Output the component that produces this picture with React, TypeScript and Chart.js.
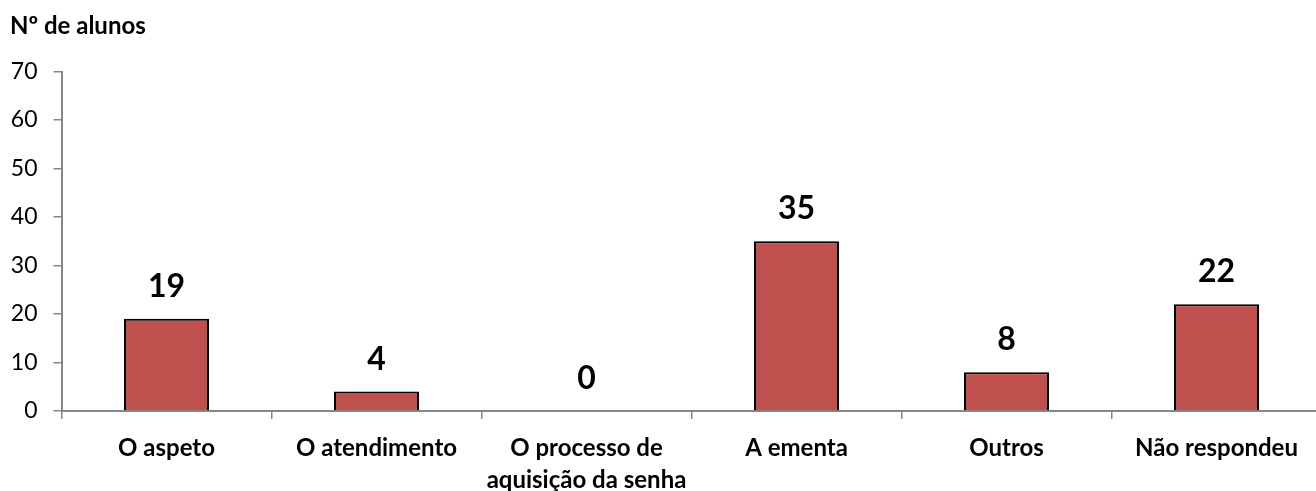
import React, { useEffect, useRef } from "react";
import { Chart, registerables } from "chart.js";

Chart.register(...registerables);

const categories: (string | string[])[] = [
  "O aspeto",
  "O atendimento",
  ["O processo de", "aquisição da senha"],
  "A ementa",
  "Outros",
  "Não respondeu",
];
const alunos: number[] = [19, 4, 0, 35, 8, 22];
const yTicks: number[] = [0, 10, 20, 30, 40, 50, 60, 70];
const yAxisTitle = "Nº de alunos";

const FONT = "Lato, 'Open Sans', sans-serif";
const AXIS = "#868686";

const CANVAS_W = 1330;
const CANVAS_H = 491;
const PLOT_LEFT = 61.5;
const PLOT_TOP = 71.5;
const PLOT_BOTTOM = 411;

// Bold value labels above each bar plus the axis heading at the top left
const labelsPlugin = {
  id: "valueLabels",
  afterDatasetsDraw(chart: any) {
    const { ctx } = chart;
    const meta = chart.getDatasetMeta(0);
    const ds = chart.data.datasets[0];
    ctx.save();
    ctx.fillStyle = "#000";
    ctx.font = `bold 32px ${FONT}`;
    ctx.textAlign = "center";
    ctx.textBaseline = "alphabetic";
    meta.data.forEach((bar: any, i: number) => {
      ctx.fillText(String(ds.data[i]), bar.x, bar.y - 22);
    });
    ctx.font = `bold 24px ${FONT}`;
    ctx.textAlign = "left";
    ctx.fillText(yAxisTitle, 10, 34);
    ctx.restore();
  },
};

export default function App() {
  const ref = useRef<HTMLCanvasElement>(null);

  useEffect(() => {
    if (!ref.current) return;
    const chart = new Chart(ref.current, {
      type: "bar",
      data: {
        labels: categories,
        datasets: [
          {
            data: alunos,
            backgroundColor: "#C0504D",
            borderColor: "#000000",
            borderWidth: 2,
            categoryPercentage: 1,
            barPercentage: 0.405,
          },
        ],
      },
      options: {
        animation: false,
        responsive: false,
        maintainAspectRatio: false,
        layout: {
          padding: { left: 0, top: PLOT_TOP, right: CANVAS_W - PLOT_LEFT - 6 * 210, bottom: 0 },
        },
        plugins: {
          legend: { display: false },
          tooltip: { enabled: false },
          title: { display: false },
        },
        scales: {
          x: {
            offset: true,
            grid: {
              display: true,
              offset: true,
              drawOnChartArea: false,
              drawTicks: true,
              tickLength: 8,
              color: AXIS,
              lineWidth: 1.5,
            },
            border: { display: true, color: AXIS, width: 2 },
            ticks: {
              color: "#000",
              font: { family: FONT, size: 24, weight: "bold", lineHeight: 1.3 },
              padding: 14,
              maxRotation: 0,
              autoSkip: false,
            },
            afterFit(scale: any) {
              scale.height = CANVAS_H - PLOT_BOTTOM;
            },
          },
          y: {
            min: 0,
            max: 70,
            afterBuildTicks(scale: any) {
              scale.ticks = yTicks.map((v) => ({ value: v }));
            },
            grid: {
              display: true,
              drawOnChartArea: false,
              drawTicks: true,
              tickLength: 8,
              color: AXIS,
              lineWidth: 1.5,
            },
            border: { display: true, color: AXIS, width: 2 },
            ticks: {
              color: "#000",
              font: { family: FONT, size: 23 },
              padding: 16,
            },
            afterFit(scale: any) {
              scale.width = PLOT_LEFT;
            },
          },
        },
      },
      plugins: [labelsPlugin],
    });
    return () => chart.destroy();
  }, []);

  return (
    <div
      style={{
        position: "absolute",
        left: 0,
        top: 0,
        width: 1316,
        height: CANVAS_H,
        overflow: "hidden",
        background: "#fff",
      }}
    >
      <canvas ref={ref} width={CANVAS_W} height={CANVAS_H} style={{ display: "block" }} />
    </div>
  );
}
